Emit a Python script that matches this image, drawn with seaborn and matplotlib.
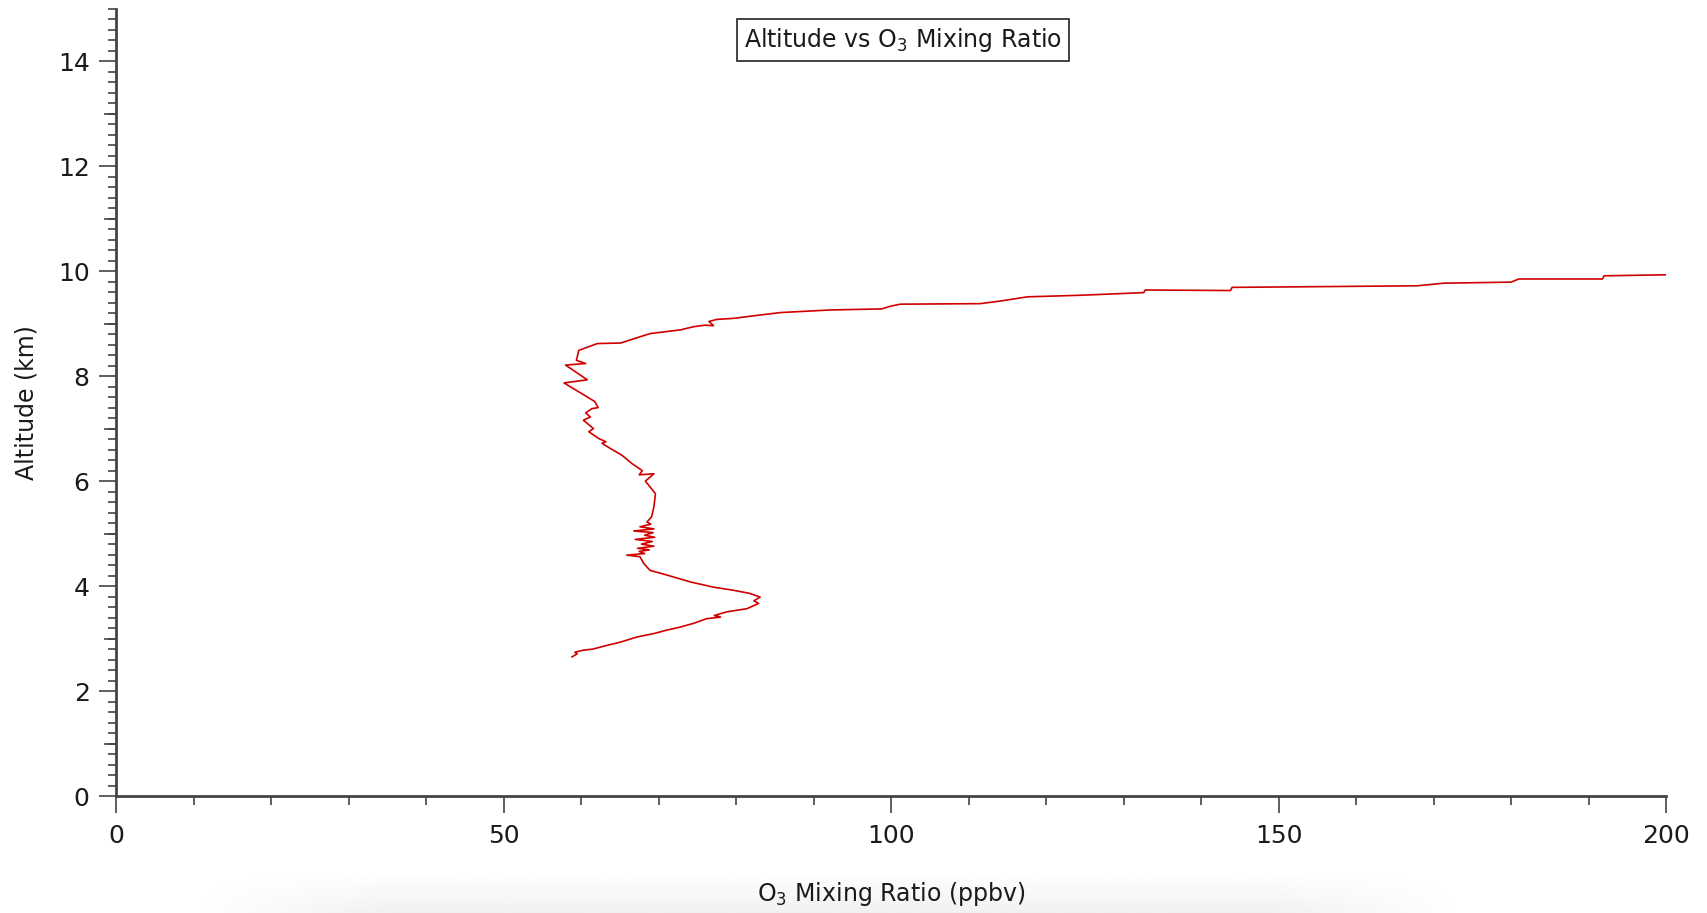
import numpy as np
import pandas as pd
import matplotlib
matplotlib.use('Agg')
import matplotlib.pyplot as plt
import seaborn as sns
from matplotlib.ticker import MultipleLocator, FixedLocator, NullFormatter

# ozone profile, from the bottom of the flight upward
o3_ppbv = [58.8, 59.5, 59.2, 60.3, 61.5, 63.3, 65.0, 67.2, 69.5, 71.0,
           72.8, 74.5, 76.2, 78.0, 77.2, 78.8, 81.4, 82.9, 82.3, 83.1,
           81.8, 79.7, 77.1, 74.1, 71.1, 68.9, 68.1, 67.6, 65.9, 68.2,
           67.5, 68.8, 67.3, 69.4, 67.8, 69.2, 67.0, 69.5, 68.2, 69.3,
           66.8, 69.4, 67.6, 69.0, 68.5, 69.1, 69.4, 69.6, 68.3, 69.4,
           67.5, 67.9, 66.6, 65.3, 63.8, 62.7, 63.2, 62.3, 61.0, 61.6,
           60.3, 61.2, 60.6, 61.4, 62.2, 61.8, 61.5, 57.8, 60.8, 58.0,
           60.6, 59.4, 59.7, 62.1, 65.1, 68.9, 72.8, 74.5, 76.0, 77.1,
           76.5, 77.5, 79.7, 81.8, 85.7, 92.2, 98.8, 99.9, 101.2, 111.5,
           114.1, 117.6, 124.5, 132.6, 132.8, 143.8, 144.0, 167.9, 171.3, 180.0,
           181.0, 191.8, 192.0, 200.0]
altitude_km = [2.65, 2.71, 2.74, 2.78, 2.80, 2.87, 2.93, 3.03, 3.10, 3.16,
               3.22, 3.29, 3.38, 3.41, 3.44, 3.51, 3.57, 3.67, 3.72, 3.79,
               3.86, 3.92, 3.98, 4.08, 4.21, 4.30, 4.43, 4.56, 4.59, 4.62,
               4.66, 4.69, 4.72, 4.76, 4.80, 4.85, 4.89, 4.93, 4.97, 5.02,
               5.05, 5.09, 5.13, 5.18, 5.22, 5.32, 5.51, 5.76, 6.00, 6.14,
               6.12, 6.20, 6.33, 6.49, 6.62, 6.72, 6.75, 6.81, 6.94, 7.00,
               7.16, 7.22, 7.30, 7.38, 7.40, 7.51, 7.54, 7.87, 7.93, 8.21,
               8.24, 8.30, 8.49, 8.62, 8.63, 8.81, 8.88, 8.94, 8.97, 8.96,
               9.04, 9.08, 9.10, 9.14, 9.21, 9.26, 9.28, 9.33, 9.37, 9.38,
               9.43, 9.51, 9.54, 9.59, 9.64, 9.63, 9.69, 9.72, 9.77, 9.79,
               9.85, 9.85, 9.91, 9.93]

df = pd.DataFrame({'o3': o3_ppbv, 'alt': altitude_km})

sns.set_style('ticks')
plt.rcParams['font.family'] = ['DejaVu Sans']
axis_col = '#444444'
text_col = '#1a1a1a'

fig = plt.figure(figsize=(17.07, 9.13), dpi=100)

# faint grey shadow along the bottom edge of the screenshot
shade = fig.add_axes([0.11, 0.0, 0.75, 0.045], zorder=-5)
rows = np.linspace(0, 1, 40)[:, None]
cols = np.linspace(0, 1, 200)[None, :]
fade = np.clip(np.minimum(cols, 1 - cols) / 0.15, 0, 1)
shade.imshow(1 - 0.055 * rows * fade, cmap='gray', vmin=0, vmax=1,
             aspect='auto', origin='upper')
shade.axis('off')

ax = fig.add_axes([0.068, 0.128, 0.908, 0.8626])
ax.patch.set_alpha(0)

sns.lineplot(data=df, x='o3', y='alt', sort=False, estimator=None,
             color='#d00000', linewidth=1.2, ax=ax)

ax.set_xlim(0, 200)
ax.set_ylim(0, 15)
ax.xaxis.set_major_locator(MultipleLocator(50))
ax.xaxis.set_minor_locator(MultipleLocator(10))
ax.yaxis.set_major_locator(MultipleLocator(2))
ax.yaxis.set_minor_locator(MultipleLocator(0.2))

sns.despine(ax=ax)
for side in ['left', 'bottom']:
    ax.spines[side].set_color(axis_col)
    ax.spines[side].set_linewidth(2.0)

ax.tick_params(axis='x', which='major', length=12, width=1.2, color=axis_col,
               labelsize=18, pad=8, labelcolor=text_col)
ax.tick_params(axis='x', which='minor', length=6.5, width=1.2, color=axis_col)
ax.tick_params(axis='y', which='major', length=12, width=1.2, color=axis_col,
               labelsize=18, pad=7, labelcolor=text_col)
ax.tick_params(axis='y', which='minor', length=5.5, width=1.2, color=axis_col)

# medium ticks on the odd kilometres
sec = ax.secondary_yaxis('left')
sec.yaxis.set_major_locator(FixedLocator([1, 3, 5, 7, 9, 11, 13]))
sec.yaxis.set_major_formatter(NullFormatter())
sec.yaxis.set_minor_locator(FixedLocator([]))
sec.tick_params(axis='y', which='major', length=9, width=1.2, color=axis_col)
sec.spines['left'].set_visible(False)

ax.set_xlabel('O$_3$ Mixing Ratio (ppbv)', fontsize=17, color=text_col, labelpad=23)
ax.set_ylabel('Altitude (km)', fontsize=17, color=text_col, labelpad=14)

fig.text(0.529, 0.956, 'Altitude vs O$_3$ Mixing Ratio', fontsize=17,
         ha='center', va='center', color=text_col,
         bbox=dict(boxstyle='square,pad=0.3', facecolor='white',
                   edgecolor='#222222', linewidth=1.2))

fig.savefig('out.png', dpi=100)
